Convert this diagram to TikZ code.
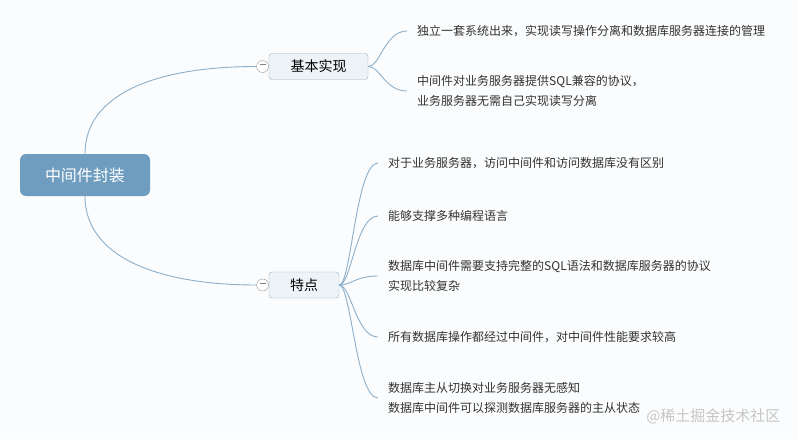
\documentclass[tikz,border=0pt]{standalone}
\usepackage{fontspec}
\setmainfont{Noto Sans CJK SC}
\usetikzlibrary{positioning}
\definecolor{Branch}{HTML}{8DAFC9}
\definecolor{RootFill}{HTML}{6F9DC0}
\definecolor{TopicFill}{HTML}{EEF3F8}
\definecolor{TopicLine}{HTML}{94B2CC}
\definecolor{Ink}{HTML}{333333}
\definecolor{Paper}{HTML}{FBFCFD}

\begin{document}
\begin{tikzpicture}[x=1pt, y=-1pt, every node/.style={font=\fontsize{12}{20}\selectfont, text=Ink}]
  \tikzstyle{root}=[fill=RootFill, rounded corners=6pt, minimum width=130pt, minimum height=42pt, text=white, font=\fontsize{16}{20}\selectfont]
  \tikzstyle{topic}=[draw=TopicLine, fill=TopicFill, rounded corners=3pt, minimum height=26pt, font=\fontsize{14}{16}\selectfont, text=black]
  \tikzstyle{fold}=[circle, draw=gray!80, fill=white, minimum size=12pt, inner sep=0pt]
  \tikzstyle{leaf}=[anchor=west, inner xsep=10pt, inner ysep=0pt, align=left]
  \tikzstyle{branch}=[draw=Branch, line width=0.9pt]

  \fill[Paper] (0,0) rectangle (798,439);
  \useasboundingbox (0,0) rectangle (798,439);

  \node[root] (core) at (85,175) {中间件封装};
  \node[topic, minimum width=99pt] (impl) at (318.5,66.5) {基本实现};
  \node[fold, left=0pt of impl] (implfold) {\textcolor{gray}{\rule[3.5pt]{6pt}{0.6pt}}};
  \node[topic, minimum width=70pt] (feat) at (304,285) {特点};
  \node[fold, left=0pt of feat] (featfold) {\textcolor{gray}{\rule[3.5pt]{6pt}{0.6pt}}};

  \node[leaf] (impla) at (407,31) {独立一套系统出来，实现读写操作分离和数据库服务器连接的管理};
  \node[leaf] (implb) at (407,91) {中间件对业务服务器提供SQL兼容的协议，\\业务服务器无需自己实现读写分离};

  \node[leaf] (feata) at (378,163) {对于业务服务器，访问中间件和访问数据库没有区别};
  \node[leaf] (featb) at (378,216) {能够支撑多种编程语言};
  \node[leaf] (featc) at (378,276) {数据库中间件需要支持完整的SQL语法和数据库服务器的协议\\实现比较复杂};
  \node[leaf] (featd) at (378,337) {所有数据库操作都经过中间件，对中间件性能要求较高};
  \node[leaf] (feate) at (378,398) {数据库主从切换对业务服务器无感知\\数据库中间件可以探测数据库服务器的主从状态};

  \node[anchor=east, text=gray!45, font=\fontsize{15}{15}\selectfont] (mark) at (784,416) {@稀土掘金技术社区};

  \draw[branch] (core.north) .. controls +(0,-60) and +(-100,0) .. (implfold.west);
  \draw[branch] (core.south) .. controls +(0,60) and +(-100,0) .. (featfold.west);
  \draw[branch] (impl.east) .. controls +(12,0) and +(-22,0) .. (impla.west);
  \draw[branch] (impl.east) .. controls +(12,0) and +(-22,0) .. (implb.west);
  \draw[branch] (feat.east) .. controls +(12,0) and +(-22,0) .. (feata.west);
  \draw[branch] (feat.east) .. controls +(12,0) and +(-22,0) .. (featb.west);
  \draw[branch] (feat.east) .. controls +(12,0) and +(-22,0) .. (featc.west);
  \draw[branch] (feat.east) .. controls +(12,0) and +(-22,0) .. (featd.west);
  \draw[branch] (feat.east) .. controls +(12,0) and +(-22,0) .. (feate.west);
\end{tikzpicture}
\end{document}
